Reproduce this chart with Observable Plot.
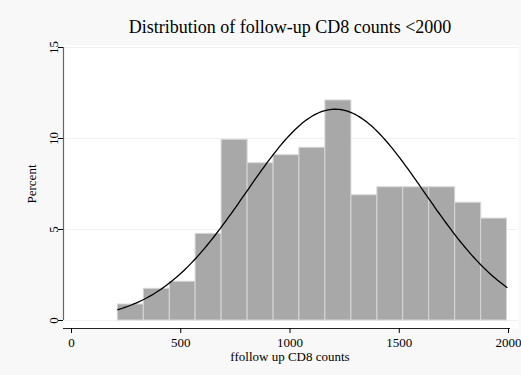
<!DOCTYPE html>
<html>
<head>
<meta charset="utf-8">
<script src="https://cdn.jsdelivr.net/npm/d3@7"></script>
<script src="https://cdn.jsdelivr.net/npm/@observablehq/plot@0.6"></script>
<style>
  html, body { margin: 0; padding: 0; background: #f8f8f8; }
  #wrap { position: relative; width: 521px; height: 375px; overflow: hidden; }
  #title { position: absolute; top: 18px; left: 290px; transform: translateX(-50%);
           font-family: "Liberation Serif", serif; font-size: 18px; line-height: 18px;
           white-space: nowrap; color: #000; z-index: 2; }
  #chart { position: absolute; top: 0; left: 0; z-index: 1; }
</style>
</head>
<body>
<div id="wrap">
  <div id="title">Distribution of follow-up CD8 counts &lt;2000</div>
  <div id="chart"></div>
</div>
<script>
// Histogram bin edges (CD8 counts) and percent per bin
const binEdges = [212, 331, 450, 568, 687, 806, 925, 1043, 1162, 1281, 1400, 1518, 1637, 1756, 1875, 1993];
const percents = [0.88, 1.74, 2.13, 4.76, 9.93, 8.64, 9.08, 9.49, 12.09, 6.88, 7.32, 7.32, 7.32, 6.47, 5.6];
// Fitted normal density overlay (mean, sd)
const normalMean = 1207;
const normalSd = 408;
const xTicks = [0, 500, 1000, 1500, 2000];
const yTicks = [0, 5, 10, 15];

const bins = percents.map((p, i) => ({x1: binEdges[i], x2: binEdges[i + 1], pct: p}));
const binWidth = (binEdges[binEdges.length - 1] - binEdges[0]) / percents.length;
const curve = d3.range(0, 201).map(k => {
  const x = binEdges[0] + (binEdges[binEdges.length - 1] - binEdges[0]) * k / 200;
  const z = (x - normalMean) / normalSd;
  return {x, y: 100 * binWidth * Math.exp(-0.5 * z * z) / (normalSd * Math.sqrt(2 * Math.PI))};
});

const serif = "Liberation Serif";
const chart = Plot.plot({
  width: 521,
  height: 375,
  marginLeft: 71,
  marginRight: 13,
  marginTop: 47,
  marginBottom: 55,
  style: {fontFamily: serif, fontSize: "13px", background: "transparent", color: "#000", overflow: "visible"},
  x: {domain: [0, 2000]},
  y: {domain: [0, 15]},
  marks: [
    Plot.frame({fill: "white", stroke: null, insetLeft: -8, insetRight: -10, insetTop: -2, insetBottom: -8}),
    Plot.gridY(yTicks, {stroke: "#f0f0f0", strokeOpacity: 1, insetLeft: -8, insetRight: -10}),
    Plot.rectY(bins, {x1: "x1", x2: "x2", y: "pct", fill: "#a8a8a8", stroke: "#d6d6d6", strokeWidth: 1}),
    Plot.line(curve, {x: "x", y: "y", stroke: "black", strokeWidth: 1.3}),
    Plot.ruleX([0], {y1: 0, y2: 15, dx: -8, stroke: "#666", strokeWidth: 1.2}),
    Plot.ruleY([0], {dy: 8, insetLeft: -8, insetRight: -2, stroke: "#222", strokeWidth: 1.2}),
    Plot.axisY(yTicks, {tickSize: 5, dx: -8, tickPadding: 1, tickRotate: -90, fontSize: 13,
      tickFormat: d => String(d),
      label: "Percent", labelAnchor: "center", labelArrow: "none", labelOffset: 45}),
    Plot.axisX(xTicks, {tickSize: 5, dy: 8, tickPadding: 4, fontSize: 13,
      tickFormat: d => String(d),
      label: "ffollow up CD8 counts", labelAnchor: "center", labelArrow: "none", labelOffset: 40})
  ]
});
document.getElementById("chart").appendChild(chart);
</script>
</body>
</html>
